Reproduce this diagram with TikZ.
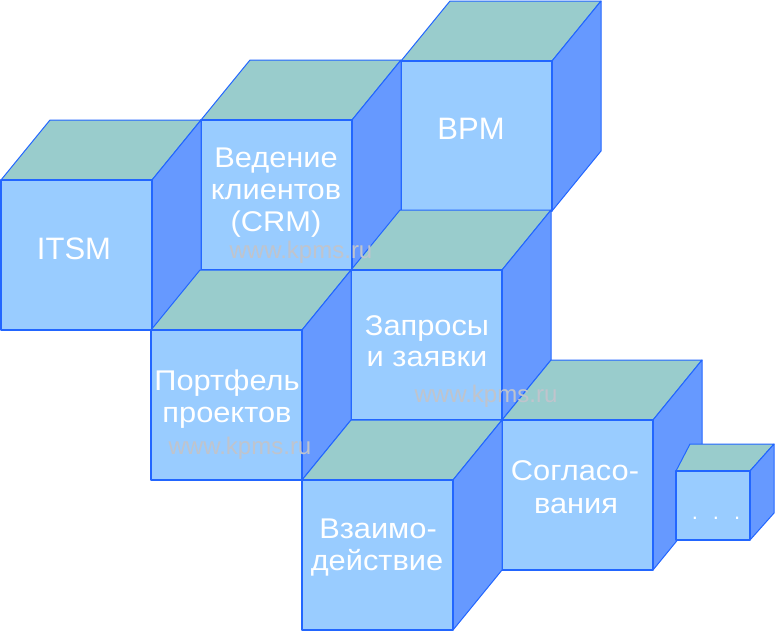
\documentclass[tikz,border=0pt]{standalone}
\usepackage{fontspec}
\setmainfont{Liberation Sans}
\newfontfamily\lblfont[FakeStretch=1.08]{Liberation Sans}
\definecolor{frontc}{HTML}{99CCFF}
\definecolor{topc}{HTML}{99CCCC}
\definecolor{sidec}{HTML}{6699FF}
\definecolor{edgec}{HTML}{2266FF}
\definecolor{wmc}{HTML}{C0C4CC}
\newcommand\kcube[2]{%
  \draw[topface] (#1,#2) -- ++(49,-60) -- ++(151,0) -- ++(-49,60) -- cycle;
  \draw[sideface] (#1+151,#2) -- ++(49,-60) -- ++(0,150) -- ++(-49,60) -- cycle;
  \draw[frontface] (#1,#2) rectangle ++(151,150);
}
\begin{document}
\begin{tikzpicture}[x=1pt,y=-1pt,
  frontface/.style={fill=frontc,draw=edgec,line width=1.4pt,line join=round},
  topface/.style={fill=topc,draw=edgec,line width=1pt,line join=round},
  sideface/.style={fill=sidec,draw=edgec,line width=1pt,line join=round},
  lbl/.style={text=white,inner sep=0pt,anchor=base,font=\lblfont\fontsize{28.5}{32}\selectfont},
  biglbl/.style={text=white,inner sep=0pt,anchor=base,font=\fontsize{31}{36}\selectfont},
  wm/.style={text=wmc,inner sep=0pt,anchor=base,font=\fontsize{24}{28}\selectfont}]
\useasboundingbox (0,0) rectangle (775,630);
% back to front
\kcube{401}{61}
\kcube{201}{120}
\kcube{351}{270}
\kcube{502}{420}
\kcube{1}{180}
\kcube{151}{330}
\kcube{302}{480}
% small cube
\draw[topface] (676,471) -- (690,444) -- (774,444) -- (750,471) -- cycle;
\draw[sideface] (750,471) -- (774,444) -- (774,513) -- (750,540) -- cycle;
\draw[frontface] (676,471) rectangle (750,540);
% labels
\node[biglbl] (itsm) at (74,259) {ITSM};
\node[biglbl] (bpm) at (471,139) {BPM};
\node[lbl] (crm1) at (276,167) {Ведение};
\node[lbl] (crm2) at (276,199) {клиентов};
\node[lbl] (crm3) at (276,231) {(CRM)};
\node[lbl] (port1) at (227,390) {Портфель};
\node[lbl] (port2) at (227,422) {проектов};
\node[lbl] (zap1) at (427,335) {Запросы};
\node[lbl] (zap2) at (427,366) {и заявки};
\node[lbl] (vz1) at (378,538) {Взаимо-};
\node[lbl] (vz2) at (377,570) {действие};
\node[lbl] (sog1) at (575,480) {Согласо-};
\node[lbl] (sog2) at (576,513) {вания};
\node[text=white,inner sep=0pt,anchor=base,font=\fontsize{22}{26}\selectfont] (dots) at (716,519) {.\hspace{15pt}.\hspace{15pt}.};
% watermarks
\node[wm] (wm1) at (301,258) {www.kpms.ru};
\node[wm] (wm2) at (486,402) {www.kpms.ru};
\node[wm] (wm3) at (240,454) {www.kpms.ru};
\end{tikzpicture}
\end{document}
